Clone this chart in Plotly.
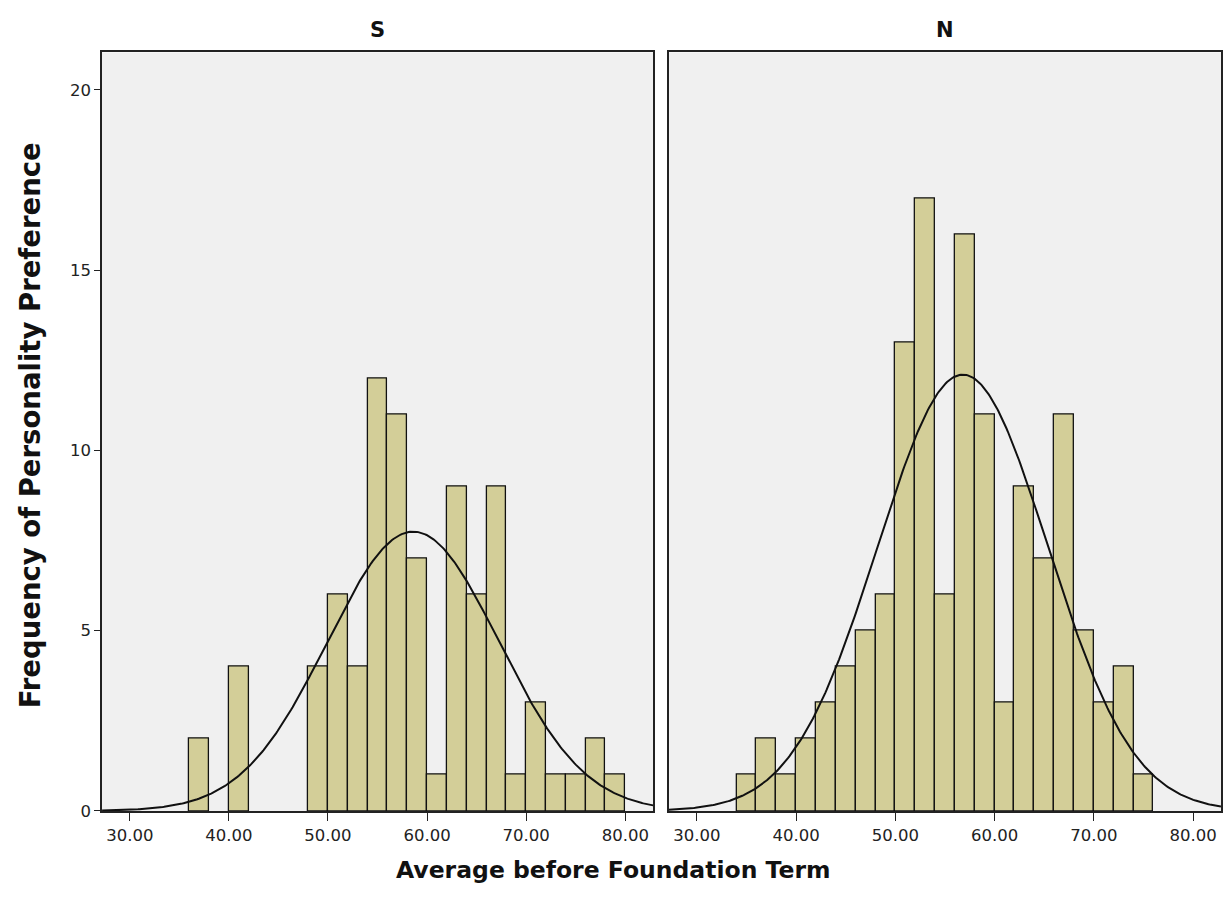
import numpy as np
import plotly.graph_objects as go

# Histogram bins (left edge of each 2-point bin) and frequencies per group
BIN_WIDTH = 2.0
s_bin_starts = [36, 40, 48, 50, 52, 54, 56, 58, 60, 62, 64, 66, 68, 70, 72, 74, 76, 78]
s_counts = [2, 4, 4, 6, 4, 12, 11, 7, 1, 9, 6, 9, 1, 3, 1, 1, 2, 1]

n_bin_starts = [34, 36, 38, 40, 42, 44, 46, 48, 50, 52, 54, 56, 58, 60, 62, 64, 66, 68, 70, 72, 74]
n_counts = [1, 2, 1, 2, 3, 4, 5, 6, 13, 17, 6, 16, 11, 3, 9, 7, 11, 5, 3, 4, 1]

# Fitted normal parameters for each group
s_mean, s_sd = 58.6, 8.65
n_mean, n_sd = 56.8, 8.57

x_ticks = [30, 40, 50, 60, 70, 80]
y_ticks = [0, 5, 10, 15, 20]
panel_titles = ["S", "N"]

X_RANGE = [27.2, 82.8]
Y_RANGE = [0, 21.04]
BAR_FILL = "rgb(211,206,152)"
PLOT_BG = "rgb(240,240,240)"
TICK_FONT = dict(family="DejaVu Sans", size=16.5, color="#222")
BOLD_FAMILY = "DejaVu Sans"

X_DOM_L = [0.0833, 0.5331]
X_DOM_R = [0.5461, 0.9967]
Y_DOM = [0.0939, 0.9414]


def normal_curve(n_total, mean, sd):
    xs = np.linspace(X_RANGE[0], X_RANGE[1], 400)
    ys = n_total * BIN_WIDTH / (sd * np.sqrt(2 * np.pi)) * np.exp(-0.5 * ((xs - mean) / sd) ** 2)
    return xs, ys


fig = go.Figure()

panels = [
    (s_bin_starts, s_counts, s_mean, s_sd, "x", "y"),
    (n_bin_starts, n_counts, n_mean, n_sd, "x2", "y2"),
]
for starts, counts, mean, sd, xa, ya in panels:
    centers = [b + BIN_WIDTH / 2 for b in starts]
    fig.add_trace(go.Bar(
        x=centers, y=counts, width=BIN_WIDTH,
        marker=dict(color=BAR_FILL, line=dict(color="#111", width=1.3)),
        xaxis=xa, yaxis=ya, showlegend=False, hoverinfo="x+y",
    ))
    cx, cy = normal_curve(sum(counts), mean, sd)
    fig.add_trace(go.Scatter(
        x=cx, y=cy, mode="lines", line=dict(color="#111", width=2),
        xaxis=xa, yaxis=ya, showlegend=False, hoverinfo="skip",
    ))

axis_common = dict(
    showline=True, linecolor="#222", linewidth=1.5, mirror=True,
    showgrid=False, zeroline=False, tickcolor="#222",
    tickfont=TICK_FONT,
)

fig.update_layout(
    width=1225, height=905,
    margin=dict(l=0, r=0, t=0, b=0),
    paper_bgcolor="white", plot_bgcolor=PLOT_BG,
    bargap=0,
    xaxis=dict(domain=X_DOM_L, range=X_RANGE, tickvals=x_ticks, ticks="outside",
               tickformat=".2f", ticklen=8, **axis_common),
    xaxis2=dict(domain=X_DOM_R, range=X_RANGE, tickvals=x_ticks, ticks="outside",
                tickformat=".2f", ticklen=8, anchor="y2", **axis_common),
    yaxis=dict(domain=Y_DOM, range=Y_RANGE, tickvals=y_ticks, ticks="outside",
               ticklen=6, anchor="x", **axis_common),
    yaxis2=dict(domain=Y_DOM, range=Y_RANGE, tickvals=y_ticks, ticks="",
                showticklabels=False, anchor="x2", **axis_common),
    annotations=[
        dict(text="<b>" + panel_titles[0] + "</b>", x=sum(X_DOM_L) / 2, y=1 - 30 / 905,
             xref="paper", yref="paper", showarrow=False,
             xanchor="center", yanchor="middle",
             font=dict(family=BOLD_FAMILY, size=21, color="#111")),
        dict(text="<b>" + panel_titles[1] + "</b>", x=sum(X_DOM_R) / 2, y=1 - 30 / 905,
             xref="paper", yref="paper", showarrow=False,
             xanchor="center", yanchor="middle",
             font=dict(family=BOLD_FAMILY, size=21, color="#111")),
        dict(text="<b>Average before Foundation Term</b>", x=613 / 1225, y=1 - 880 / 905,
             xref="paper", yref="paper", showarrow=False,
             xanchor="center", yanchor="middle",
             font=dict(family=BOLD_FAMILY, size=23.5, color="#111")),
        dict(text="<b>Frequency of Personality Preference</b>", x=30 / 1225, y=1 - 430 / 905,
             xref="paper", yref="paper", showarrow=False, textangle=-90,
             xanchor="center", yanchor="middle",
             font=dict(family=BOLD_FAMILY, size=27.5, color="#111")),
    ],
)

fig.write_html("out.html")
